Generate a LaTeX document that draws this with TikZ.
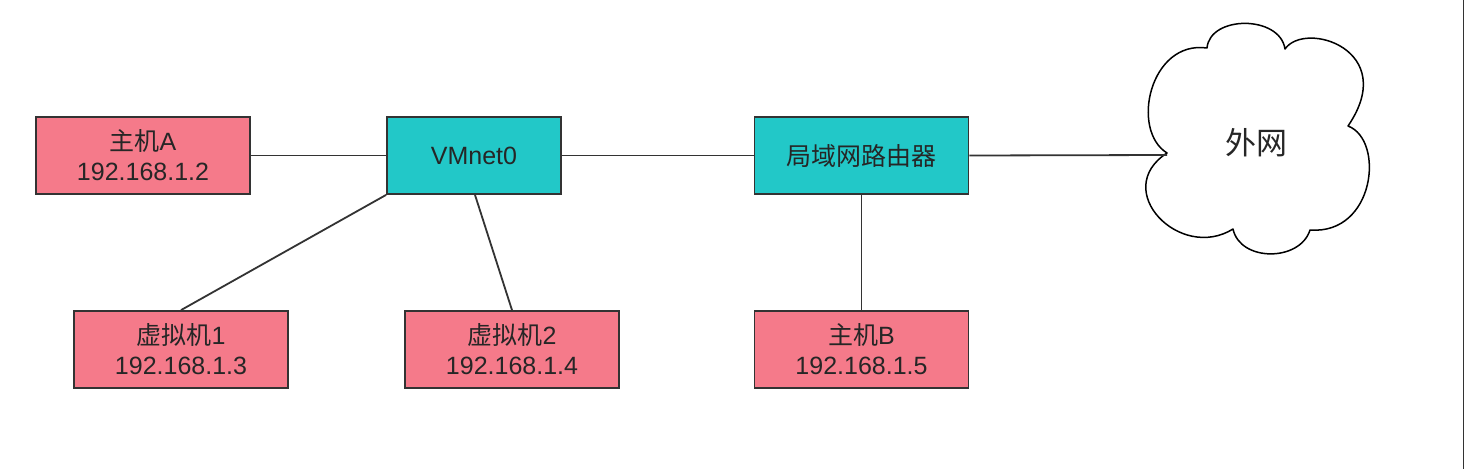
\documentclass[tikz,border=0pt]{standalone}
\usepackage{fontspec}
\setmainfont{Liberation Sans}
\newfontfamily\cjk{Noto Sans CJK SC}
\definecolor{pinkfill}{HTML}{F57A8A}
\definecolor{tealfill}{HTML}{22C8C8}
\definecolor{edgegray}{HTML}{333333}
\begin{document}
\begin{tikzpicture}[x=1pt,y=-1pt,
  box/.style={draw=edgegray,line width=1.8pt,minimum width=214pt,minimum height=77pt,align=center,font=\fontsize{25}{30}\selectfont,text=black!85,inner sep=0pt},
  hostbox/.style={box,fill=pinkfill},
  netbox/.style={box,fill=tealfill},
  link/.style={draw=edgegray,line width=1.8pt}]
\useasboundingbox (0,0) rectangle (1465,469);
\fill[white] (0,0) rectangle (1465,469);
\node[hostbox] (A) at (143,155.5) {{\cjk 主机}A\\192.168.1.2};
\node[netbox,minimum width=174pt] (vm) at (474,155.5) {VMnet0};
\node[netbox] (router) at (861.5,155.5) {\cjk 局域网路由器};
\node[hostbox] (v1) at (181,349.5) {{\cjk 虚拟机}1\\192.168.1.3};
\node[hostbox] (v2) at (512,349.5) {{\cjk 虚拟机}2\\192.168.1.4};
\node[hostbox] (B) at (861.5,349.5) {{\cjk 主机}B\\192.168.1.5};
% cloud
\draw[black,line width=1.5pt,fill=white,line join=round]
  (1207,48) .. controls (1210,15) and (1280,15) .. (1285,49)
  .. controls (1305,20) and (1400,50) .. (1348,126)
  .. controls (1385,140) and (1375,235) .. (1310,230)
  .. controls (1300,262) and (1240,262) .. (1233,229)
  .. controls (1180,262) and (1110,190) .. (1167,153)
  .. controls (1130,130) and (1150,40) .. cycle;
\coordinate (cloudin) at (1167,155);
\node[font=\cjk\fontsize{31}{36}\selectfont,text=black!85,inner sep=0pt] (net) at (1256,143) {外网};
\draw[link] (A.east) -- (A.east -| vm.west);
\draw[link] (vm.east) -- (router.west);
\draw[link] (router.east) -- (cloudin);
\draw[link] (vm.south west) -- (v1.north);
\draw[link] ([xshift=1pt]vm.south) -- (v2.north);
\draw[link] (router.south) -- (B.north);
\draw[line width=1pt,edgegray] (1463.5,0) -- (1463.5,469);
\end{tikzpicture}
\end{document}
